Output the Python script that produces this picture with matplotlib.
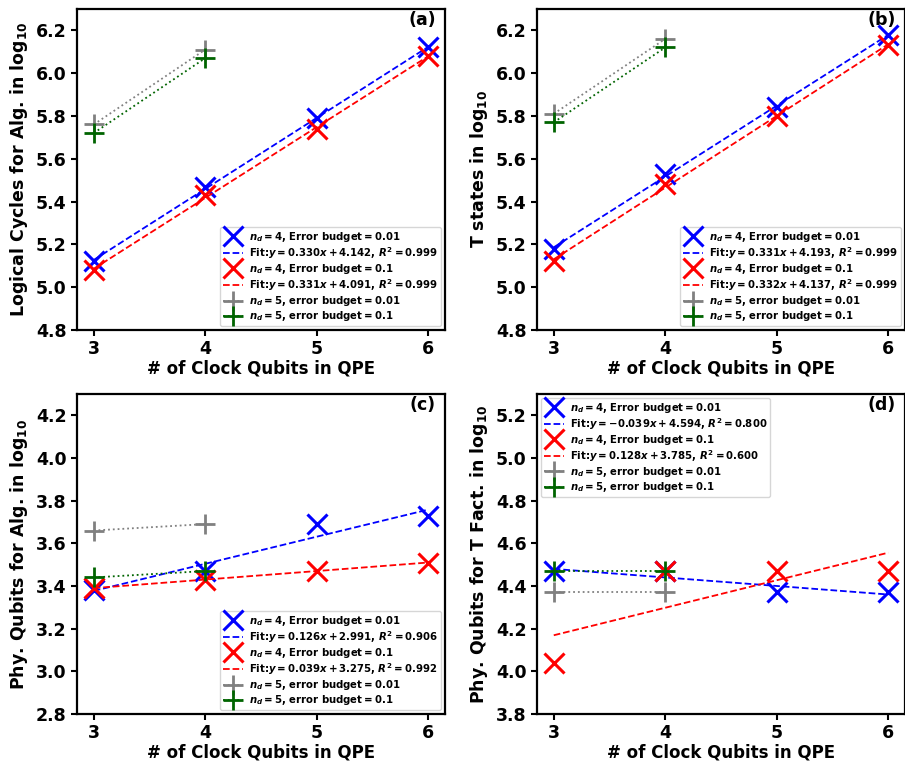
import numpy as np
import matplotlib
matplotlib.use("Agg")
import matplotlib.pyplot as plt

plt.rcParams['font.family'] = 'DejaVu Sans'
plt.rcParams['font.weight'] = 'bold'
plt.rcParams['axes.labelweight'] = 'bold'
plt.rcParams['mathtext.fontset'] = 'custom'
plt.rcParams['mathtext.rm'] = 'DejaVu Sans:bold'
plt.rcParams['mathtext.it'] = 'DejaVu Sans:bold:italic'
plt.rcParams['mathtext.bf'] = 'DejaVu Sans:bold'

# clock qubits
qubits = [3, 4, 5, 6]
qubits_nd5 = [3, 4]

# (a) logical cycles, log10
cycles_001 = [5.12, 5.47, 5.79, 6.12]
cycles_01 = [5.08, 5.43, 5.74, 6.08]
cycles_nd5_001 = [5.76, 6.11]
cycles_nd5_01 = [5.72, 6.07]
cycles_fits = ['Fit:$y=0.330x+4.142$, $R^2=0.999$', 'Fit:$y=0.331x+4.091$, $R^2=0.999$']

# (b) T states, log10
tstates_001 = [5.18, 5.53, 5.84, 6.18]
tstates_01 = [5.12, 5.48, 5.80, 6.13]
tstates_nd5_001 = [5.81, 6.16]
tstates_nd5_01 = [5.77, 6.12]
tstates_fits = ['Fit:$y=0.331x+4.193$, $R^2=0.999$', 'Fit:$y=0.332x+4.137$, $R^2=0.999$']

# (c) physical qubits for algorithm, log10
phyalg_001 = [3.38, 3.47, 3.69, 3.73]
phyalg_01 = [3.39, 3.43, 3.47, 3.51]
phyalg_nd5_001 = [3.66, 3.69]
phyalg_nd5_01 = [3.44, 3.47]
phyalg_fits = ['Fit:$y=0.126x+2.991$, $R^2=0.906$', 'Fit:$y=0.039x+3.275$, $R^2=0.992$']

# (d) physical qubits for T factories, log10
phyt_001 = [4.47, 4.47, 4.37, 4.37]
phyt_01 = [4.04, 4.47, 4.47, 4.47]
phyt_nd5_001 = [4.37, 4.37]
phyt_nd5_01 = [4.47, 4.47]
phyt_fits = ['Fit:$y=-0.039x+4.594$, $R^2=0.800$', 'Fit:$y=0.128x+3.785$, $R^2=0.600$']

panels = [
    ('(a)', 'Logical Cycles for Alg. in log$_{10}$', (4.8, 6.3),
     cycles_001, cycles_01, cycles_nd5_001, cycles_nd5_01, cycles_fits, 'lower right'),
    ('(b)', 'T states in log$_{10}$', (4.8, 6.3),
     tstates_001, tstates_01, tstates_nd5_001, tstates_nd5_01, tstates_fits, 'lower right'),
    ('(c)', 'Phy. Qubits for Alg. in log$_{10}$', (2.8, 4.3),
     phyalg_001, phyalg_01, phyalg_nd5_001, phyalg_nd5_01, phyalg_fits, 'lower right'),
    ('(d)', 'Phy. Qubits for T Fact. in log$_{10}$', (3.8, 5.3),
     phyt_001, phyt_01, phyt_nd5_001, phyt_nd5_01, phyt_fits, 'upper left'),
]

positions = [
    [0.0851, 0.567, 0.4066, 0.4213],
    [0.5934, 0.567, 0.4066, 0.4213],
    [0.0851, 0.063, 0.4066, 0.4200],
    [0.5934, 0.063, 0.4066, 0.4200],
]

fig = plt.figure(figsize=(9.05, 7.62), dpi=100)

for pos, (tag, ylabel, ylim, y001, y01, y5_001, y5_01, fits, loc) in zip(positions, panels):
    ax = fig.add_axes(pos)
    x = np.array(qubits)

    ax.plot(qubits, y001, 'x', color='blue', ms=14, mew=2.2,
            label='$n_d=4$, Error budget$=0.01$')
    p = np.polyfit(x, y001, 1)
    ax.plot(x, np.polyval(p, x), '--', color='blue', lw=1.3, label=fits[0])

    ax.plot(qubits, y01, 'x', color='red', ms=14, mew=2.2,
            label='$n_d=4$, Error budget$=0.1$')
    p = np.polyfit(x, y01, 1)
    ax.plot(x, np.polyval(p, x), '--', color='red', lw=1.3, label=fits[1])

    ax.plot(qubits_nd5, y5_001, '+:', color='gray', ms=14, mew=2, lw=1.3,
            label='$n_d=5$, error budget$=0.01$')
    ax.plot(qubits_nd5, y5_01, '+:', color='darkgreen', ms=14, mew=2, lw=1.3,
            label='$n_d=5$, error budget$=0.1$')

    ax.set_xlim(2.85, 6.15)
    ax.set_ylim(*ylim)
    ax.set_xticks(qubits)
    ax.set_yticks(np.round(np.arange(ylim[0], ylim[1] - 0.05, 0.2), 1))
    ax.yaxis.set_major_formatter(matplotlib.ticker.FormatStrFormatter('%.1f'))
    ax.tick_params(labelsize=12.5, width=1.5, length=4)
    for s in ax.spines.values():
        s.set_linewidth(1.6)
    ax.set_xlabel('# of Clock Qubits in QPE', fontsize=12, labelpad=1)
    ax.set_ylabel(ylabel, fontsize=12.5)
    ax.text(0.975, 0.995, tag, transform=ax.transAxes, ha='right', va='top',
            fontsize=12.5, fontweight='bold')
    ax.legend(loc=loc, fontsize=7.3, handlelength=2.0, borderaxespad=0.4,
              labelspacing=0.12, borderpad=0.25, handletextpad=0.6)

fig.savefig('out.png', dpi=100)
